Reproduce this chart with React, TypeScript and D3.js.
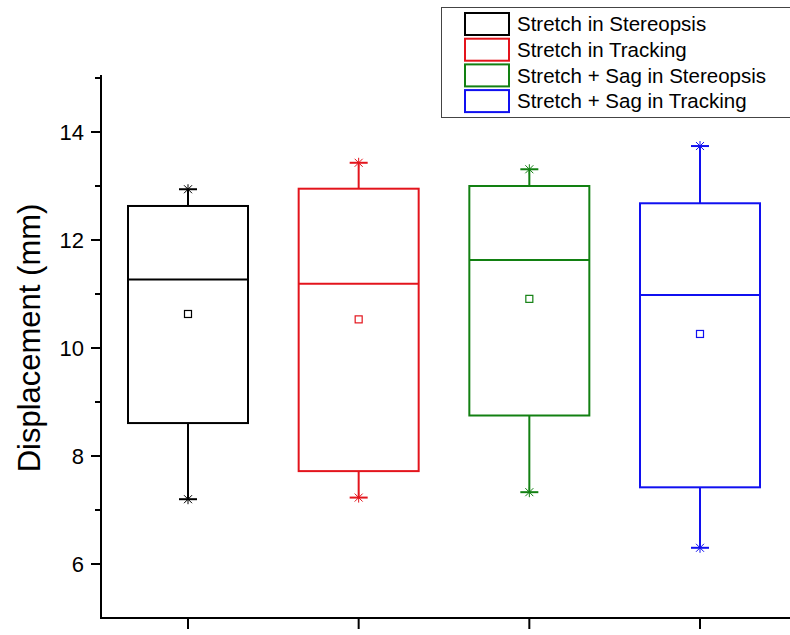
import React from "react";
import * as d3 from "d3";

// box stats (mm)
const groups = [
  "Stretch in Stereopsis",
  "Stretch in Tracking",
  "Stretch + Sag in Stereopsis",
  "Stretch + Sag in Tracking",
];
const colors = ["#000000", "#e3141c", "#128012", "#1010f0"];
const whiskerHigh = [12.94, 13.43, 13.31, 13.74];
const q3 = [12.63, 12.95, 13.0, 12.68];
const medians = [11.27, 11.19, 11.63, 10.98];
const means = [10.63, 10.53, 10.91, 10.26];
const q1 = [8.61, 7.72, 8.75, 7.42];
const whiskerLow = [7.2, 7.23, 7.33, 6.3];
const yTicks = [6, 8, 10, 12, 14];
const yMinorTicks = [7, 9, 11, 13, 15];

const W = 790;
const H = 635;
const left = 101;
const bottom = 618;
const font = "Arial, 'Liberation Sans', sans-serif";

export default function App() {
  const y = d3.scaleLinear().domain([5, 15]).range([bottom, 78]);
  const x = d3.scalePoint<string>().domain(groups).range([188, 700]);
  const boxW = 120;
  const capW = 18;

  return (
    <svg
      width={W}
      height={H}
      style={{ position: "absolute", left: 0, top: 0, background: "#fff" }}
    >
      {/* boxes */}
      {groups.map((g, i) => {
        const cx = x(g)!;
        const c = colors[i];
        const star = (yy: number) => (
          <g stroke={c} strokeWidth={1}>
            <line x1={cx} x2={cx} y1={yy - 5} y2={yy + 5} />
            <line x1={cx - 4} x2={cx + 4} y1={yy - 4} y2={yy + 4} />
            <line x1={cx - 4} x2={cx + 4} y1={yy + 4} y2={yy - 4} />
          </g>
        );
        return (
          <g key={g}>
            <line x1={cx} x2={cx} y1={y(whiskerHigh[i])} y2={y(q3[i])} stroke={c} strokeWidth={2} />
            <line x1={cx} x2={cx} y1={y(q1[i])} y2={y(whiskerLow[i])} stroke={c} strokeWidth={2} />
            <line x1={cx - capW / 2} x2={cx + capW / 2} y1={y(whiskerHigh[i])} y2={y(whiskerHigh[i])} stroke={c} strokeWidth={2} />
            <line x1={cx - capW / 2} x2={cx + capW / 2} y1={y(whiskerLow[i])} y2={y(whiskerLow[i])} stroke={c} strokeWidth={2} />
            {star(y(whiskerHigh[i]))}
            {star(y(whiskerLow[i]))}
            <rect
              x={cx - boxW / 2}
              y={y(q3[i])}
              width={boxW}
              height={y(q1[i]) - y(q3[i])}
              fill="none"
              stroke={c}
              strokeWidth={2}
            />
            <line x1={cx - boxW / 2} x2={cx + boxW / 2} y1={y(medians[i])} y2={y(medians[i])} stroke={c} strokeWidth={2} />
            <rect x={cx - 3.5} y={y(means[i]) - 3.5} width={7} height={7} fill="#fff" stroke={c} strokeWidth={1.2} />
          </g>
        );
      })}

      {/* y axis */}
      <line x1={left} x2={left} y1={75} y2={bottom + 1} stroke="#000" strokeWidth={2} />
      {yTicks.map((t) => (
        <g key={t}>
          <line x1={left - 10} x2={left} y1={y(t)} y2={y(t)} stroke="#000" strokeWidth={2} />
          <text
            x={84}
            y={y(t)}
            dy="0.36em"
            textAnchor="end"
            fontFamily={font}
            fontSize={22}
            fill="#000"
          >
            {t}
          </text>
        </g>
      ))}
      {yMinorTicks.map((t) => (
        <line key={t} x1={left - 6} x2={left} y1={y(t)} y2={y(t)} stroke="#000" strokeWidth={2} />
      ))}
      <text
        transform="translate(40, 338) rotate(-90)"
        textAnchor="middle"
        fontFamily={font}
        fontSize={31}
        fill="#000"
      >
        Displacement (mm)
      </text>

      {/* x axis */}
      <line x1={left - 1} x2={W} y1={bottom} y2={bottom} stroke="#000" strokeWidth={2} />
      {groups.map((g) => (
        <line key={g} x1={x(g)!} x2={x(g)!} y1={bottom} y2={bottom + 11} stroke="#000" strokeWidth={2} />
      ))}

      {/* legend */}
      <rect x={441.5} y={7.5} width={360} height={110} fill="#fff" stroke="#444" strokeWidth={1} />
      {groups.map((g, i) => (
        <g key={g} transform={`translate(0, ${13 + i * 25.7})`}>
          <rect x={465} y={0} width={44} height={22} fill="none" stroke={colors[i]} strokeWidth={2} />
          <text x={517} y={11} dy="0.36em" fontFamily={font} fontSize={20.5} fill="#000">
            {g}
          </text>
        </g>
      ))}
    </svg>
  );
}
